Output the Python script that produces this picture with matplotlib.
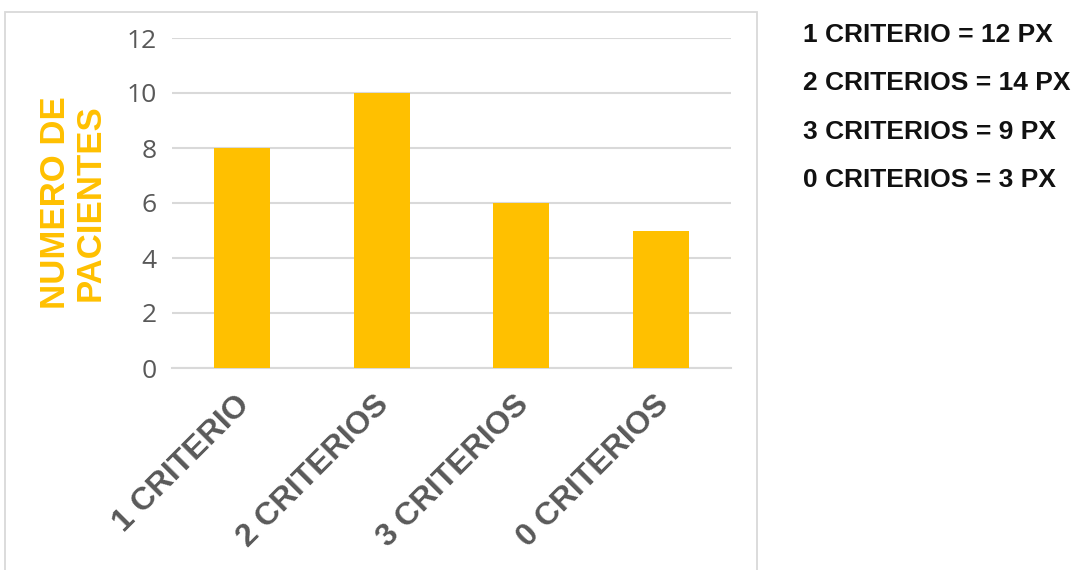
import matplotlib
matplotlib.use("Agg")
import matplotlib.pyplot as plt
from matplotlib.patches import Rectangle
from matplotlib.transforms import ScaledTranslation

# Data
categories = ["1 CRITERIO", "2 CRITERIOS", "3 CRITERIOS", "0 CRITERIOS"]
pacientes = [8, 10, 6, 5]
y_ticks = [0, 2, 4, 6, 8, 10, 12]
notes = ["1 CRITERIO = 12 PX", "2 CRITERIOS = 14 PX",
         "3 CRITERIOS = 9 PX", "0 CRITERIOS = 3 PX"]

BAR = "#FFC000"
GRID = "#D9D9D9"
TXT = "#595959"

W, H = 1079, 570
fig = plt.figure(figsize=(W / 100, H / 100), dpi=100)
fig.patch.set_facecolor("white")

# Chart frame
frame = Rectangle((5 / W, -0.05), (757 - 5) / W, (1 - 12 / H) + 0.05,
                  transform=fig.transFigure, fill=False,
                  edgecolor=GRID, linewidth=1.3)
fig.add_artist(frame)

ax = fig.add_axes([172 / W, 1 - 368 / H, (731 - 172) / W, (368 - 38) / H])
x = range(len(categories))
ax.bar(x, pacientes, width=0.4, color=BAR, zorder=3)

ax.set_xlim(-0.5, len(categories) - 0.5)
ax.set_ylim(0, 12)
ax.set_yticks(y_ticks)
ax.set_yticklabels([str(t) for t in y_ticks], fontsize=19,
                   family="Open Sans", color=TXT)
ax.grid(axis="y", color=GRID, linewidth=1.5, zorder=0)
for s in ["top", "right", "left"]:
    ax.spines[s].set_visible(False)
ax.spines["bottom"].set_color(GRID)
ax.spines["bottom"].set_linewidth(1.5)
ax.tick_params(axis="both", length=0)
ax.tick_params(axis="y", pad=11)
ax.tick_params(axis="x", pad=23)

ax.set_xticks(list(x))
ax.set_xticklabels(categories, rotation=45, ha="right", va="center",
                   rotation_mode="anchor", fontsize=23, fontweight="bold",
                   family="Liberation Sans", color=TXT)
shift = ScaledTranslation(3 / 100, 0, fig.dpi_scale_trans)
for lab in ax.get_xticklabels():
    lab.set_transform(lab.get_transform() + shift)

ax.set_ylabel("NUMERO DE\nPACIENTES", fontsize=25, fontweight="bold",
              family="Liberation Sans", color=BAR, va="center",
              linespacing=1.05)
ax.yaxis.set_label_coords((72.5 - 172) / (731 - 172), 0.5)

# Notes to the right of the chart
for i, txt in enumerate(notes):
    yb = 42 + i * 48.3
    fig.text(803 / W, 1 - yb / H, txt, fontsize=19, fontweight="bold",
             family="Liberation Sans", color="#111111",
             ha="left", va="baseline")

fig.savefig("out.png", dpi=100, facecolor="white")
